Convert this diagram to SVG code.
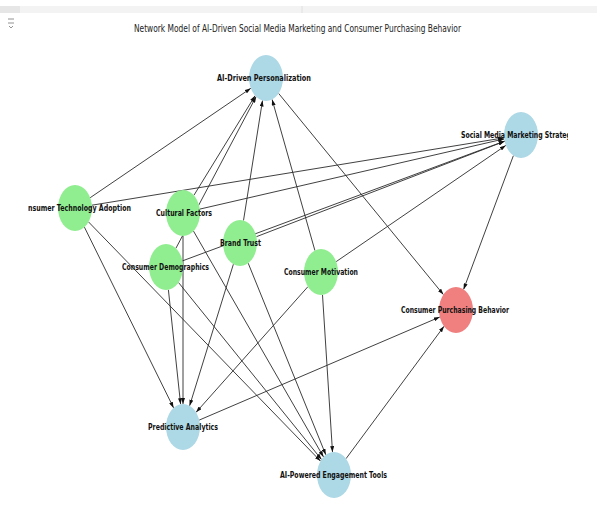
<svg xmlns="http://www.w3.org/2000/svg" width="597" height="523" viewBox="0 0 597 523">
<style>
.edge{stroke:#2b2b2b;stroke-width:0.9;fill:none;marker-end:url(#arr)}
.blue{fill:#add8e6}
.green{fill:#90ee90}
.red{fill:#f08080}
.lbl{font-family:"DejaVu Sans","Liberation Sans",sans-serif;font-weight:bold;font-size:8.5px;fill:#111;text-anchor:middle}
.title{font-family:"DejaVu Sans","Liberation Sans",sans-serif;font-size:10px;fill:#222;text-anchor:middle}
</style>
<defs>
<marker id="arr" viewBox="0 0 6 4" refX="6" refY="2" markerWidth="6" markerHeight="4" markerUnits="userSpaceOnUse" orient="auto">
<path d="M0,0 L6,2 L0,4 z" fill="#111"/>
</marker>
<clipPath id="ax"><rect x="28" y="40" width="540" height="480"/></clipPath>
</defs>
<rect width="597" height="523" fill="#fff"/>
<rect x="0" y="6" width="597" height="7" fill="#f3f3f3"/>
<rect x="0" y="6" width="20" height="7" fill="#e6e6e6"/>
<line x1="302" y1="6" x2="302" y2="13" stroke="#e0e0e0" stroke-width="1"/>
<g id="icon" stroke="#777" stroke-width="0.8" fill="none">
<line x1="8" y1="19" x2="14" y2="19"/>
<line x1="8" y1="23" x2="14" y2="23"/>
<path d="M9,26 L11,28 L13,26"/>
</g>
<text class="title" x="297.5" y="32" textLength="327" lengthAdjust="spacingAndGlyphs">Network Model of AI-Driven Social Media Marketing and Consumer Purchasing Behavior</text>
<g id="edges">
<line class="edge" x1="90.2" y1="197.7" x2="250.8" y2="88.3"/>
<line class="edge" x1="91.9" y1="205.2" x2="504.1" y2="137.8"/>
<line class="edge" x1="84.4" y1="227.1" x2="173.6" y2="407.9"/>
<line class="edge" x1="88.5" y1="221.9" x2="320.5" y2="461.1"/>
<line class="edge" x1="193.9" y1="195.3" x2="255.1" y2="95.7"/>
<line class="edge" x1="199.8" y1="209.1" x2="504.2" y2="138.9"/>
<line class="edge" x1="183" y1="236" x2="183" y2="404"/>
<line class="edge" x1="193.5" y1="231.1" x2="323.5" y2="456.9"/>
<line class="edge" x1="243.5" y1="220.5" x2="262.5" y2="100.5"/>
<line class="edge" x1="256.4" y1="236.7" x2="504.6" y2="141.3"/>
<line class="edge" x1="233.4" y1="264.2" x2="189.6" y2="405.8"/>
<line class="edge" x1="248.2" y1="263.2" x2="325.8" y2="454.8"/>
<line class="edge" x1="175.9" y1="248.3" x2="256.1" y2="96.7"/>
<line class="edge" x1="182.4" y1="260.9" x2="504.6" y2="141.1"/>
<line class="edge" x1="168.4" y1="289.8" x2="180.6" y2="404.2"/>
<line class="edge" x1="178.5" y1="282.5" x2="321.5" y2="459.5"/>
<line class="edge" x1="314.9" y1="250.5" x2="272.1" y2="99.5"/>
<line class="edge" x1="336.2" y1="261.6" x2="505.8" y2="145.4"/>
<line class="edge" x1="307.9" y1="286.7" x2="196.1" y2="412.3"/>
<line class="edge" x1="322.5" y1="294.9" x2="332.5" y2="452.1"/>
<line class="edge" x1="278.6" y1="93.4" x2="443.4" y2="294.6"/>
<line class="edge" x1="513.4" y1="155.6" x2="463.6" y2="289.4"/>
<line class="edge" x1="199.2" y1="420.1" x2="439.8" y2="317.0"/>
<line class="edge" x1="346.0" y1="458.7" x2="444.0" y2="326.3"/>
</g>
<g id="ai-driven-personalization"><ellipse class="blue" cx="266" cy="78" rx="17" ry="23"/><text class="lbl" x="264" y="81" textLength="94" lengthAdjust="spacingAndGlyphs">AI-Driven Personalization</text></g>
<g id="social-media-marketing-strategy" clip-path="url(#ax)"><ellipse class="blue" cx="521" cy="135" rx="17" ry="23"/><text class="lbl" x="518" y="138" textLength="114" lengthAdjust="spacingAndGlyphs">Social Media Marketing Strategy</text></g>
<g id="consumer-technology-adoption" clip-path="url(#ax)"><ellipse class="green" cx="75" cy="208" rx="17" ry="23"/><text class="lbl" x="75" y="211" textLength="112" lengthAdjust="spacingAndGlyphs">Consumer Technology Adoption</text></g>
<g id="cultural-factors"><ellipse class="green" cx="183" cy="213" rx="17" ry="23"/><text class="lbl" x="184" y="216" textLength="56" lengthAdjust="spacingAndGlyphs">Cultural Factors</text></g>
<g id="brand-trust"><ellipse class="green" cx="240" cy="243" rx="17" ry="23"/><text class="lbl" x="240.5" y="246" textLength="41" lengthAdjust="spacingAndGlyphs">Brand Trust</text></g>
<g id="consumer-demographics"><ellipse class="green" cx="166" cy="267" rx="17" ry="23"/><text class="lbl" x="165.5" y="270" textLength="87" lengthAdjust="spacingAndGlyphs">Consumer Demographics</text></g>
<g id="consumer-motivation"><ellipse class="green" cx="321" cy="272" rx="17" ry="23"/><text class="lbl" x="321" y="275" textLength="74" lengthAdjust="spacingAndGlyphs">Consumer Motivation</text></g>
<g id="consumer-purchasing-behavior"><ellipse class="red" cx="456" cy="310" rx="17" ry="23"/><text class="lbl" x="455" y="313" textLength="108" lengthAdjust="spacingAndGlyphs">Consumer Purchasing Behavior</text></g>
<g id="predictive-analytics"><ellipse class="blue" cx="183" cy="427" rx="17" ry="23"/><text class="lbl" x="183" y="430" textLength="70" lengthAdjust="spacingAndGlyphs">Predictive Analytics</text></g>
<g id="ai-powered-engagement-tools"><ellipse class="blue" cx="334" cy="475" rx="17" ry="23"/><text class="lbl" x="333.5" y="478" textLength="107" lengthAdjust="spacingAndGlyphs">AI-Powered Engagement Tools</text></g>
</svg>
